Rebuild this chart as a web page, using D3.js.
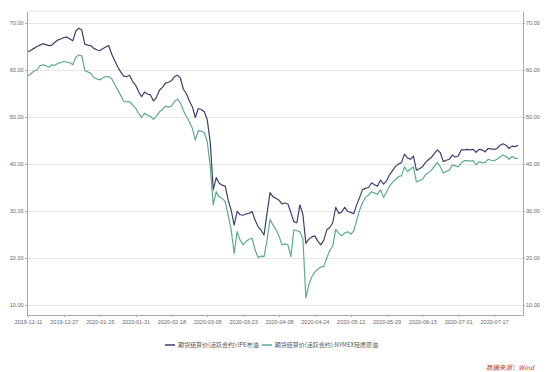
<!DOCTYPE html>
<html>
<head>
<meta charset="utf-8">
<script src="https://cdn.jsdelivr.net/npm/d3@7"></script>
<style>
  body { margin: 0; background: #fff; }
  .axis text { font-family: "Liberation Sans", Arial, sans-serif; font-size: 5.5px; fill: #666; }
  .axis path, .axis line { stroke: #aaa; shape-rendering: crispEdges; }
  .grid line { stroke: #e6e6e6; shape-rendering: crispEdges; }
</style>
</head>
<body>
<div id="chart"></div>
<script>
var svgWidth = 550;
var svgHeight = 372;

// series names (legend)
var seriesNames = ["期货结算价(活跃合约):IPE布油", "期货结算价(活跃合约):NYMEX轻质原油"];

// x axis labels, one every 12 trading days
var tickLabels = ["2019-12-11", "2019-12-27", "2020-01-15", "2020-01-31", "2020-02-18",
  "2020-03-05", "2020-03-23", "2020-04-08", "2020-04-24", "2020-05-12",
  "2020-05-29", "2020-06-15", "2020-07-01", "2020-07-17"];
var tickStep = 12;

var yTicks = [10, 20, 30, 40, 50, 60, 70];

// IPE Brent, daily settlement
var brent = [
  63.9, 64.2, 64.6, 65.0, 65.3, 65.6, 65.4, 65.2, 65.3, 65.9,
  66.4, 66.6, 66.9, 67.0, 66.6, 66.2, 68.3, 68.9, 68.5, 65.5,
  65.3, 65.2, 64.6, 64.3, 64.1, 64.5, 64.9, 65.2, 63.4, 62.0,
  60.7, 59.6, 58.7, 58.6, 58.9, 57.6, 56.8, 55.4, 54.3, 55.3,
  54.9, 54.7, 53.4, 54.2, 55.7, 56.3, 57.2, 57.4, 57.7, 58.6,
  58.9, 58.3, 55.9, 55.0, 53.4, 52.2, 49.9, 51.8, 51.6, 51.1,
  49.4, 44.6, 34.5, 37.1, 35.9, 35.5, 35.3, 32.3, 30.2, 27.0,
  29.9, 29.2, 29.1, 29.4, 29.5, 29.9, 28.1, 26.7, 25.9, 24.9,
  29.5, 33.9, 33.0, 32.7, 32.3, 31.5, 31.7, 31.5, 29.6, 27.7,
  27.5, 31.3, 29.3, 23.1, 24.0, 24.5, 24.7, 23.6, 22.8, 23.8,
  26.0, 26.5, 27.5, 30.8, 29.5, 29.8, 30.8, 29.9, 29.7, 29.4,
  31.3, 32.9, 34.6, 34.8, 35.0, 36.0, 35.6, 35.3, 36.6, 35.7,
  36.4, 37.7, 38.6, 39.5, 40.0, 40.3, 42.1, 41.3, 41.0, 41.7,
  38.7, 39.0, 39.4, 40.3, 40.9, 41.4, 42.2, 43.0, 42.4, 40.5,
  40.8, 41.0, 41.9, 41.5, 41.7, 43.0, 43.0, 43.1, 43.0, 43.1,
  42.5, 43.1, 43.0, 42.6, 43.3, 43.2, 43.1, 43.3, 44.0, 44.3,
  44.0, 43.3, 43.8, 43.7, 44.0
];

// NYMEX WTI, daily settlement
var wti = [
  58.8, 59.2, 59.8, 60.0, 60.9, 61.1, 60.9, 60.6, 61.1, 61.0,
  61.4, 61.6, 61.8, 61.7, 61.6, 61.1, 62.7, 63.2, 63.0, 59.9,
  59.6, 59.3, 58.4, 58.1, 57.9, 58.3, 58.6, 58.6, 58.2, 56.9,
  55.8, 54.6, 53.4, 53.2, 53.3, 52.6, 51.9, 50.8, 49.9, 50.8,
  50.4, 50.1, 49.5, 50.2, 51.1, 51.6, 52.3, 52.1, 52.3, 53.3,
  53.8, 53.0, 51.4, 50.1, 49.0, 47.6, 45.1, 47.1, 47.0, 46.7,
  44.7, 39.5, 31.3, 34.1, 33.0, 32.7, 32.0, 29.1, 26.0, 21.0,
  25.6, 23.8, 22.8, 23.5, 24.0, 24.2, 21.7, 20.1, 20.4, 20.3,
  23.8, 28.2, 27.0, 26.0, 24.7, 22.8, 23.0, 22.8, 20.3, 26.0,
  25.8, 25.6, 24.2, 11.5, 14.3, 16.0, 17.0, 17.6, 18.1, 18.2,
  20.0, 21.6, 22.6, 26.1, 25.3, 24.7, 25.3, 25.6, 25.1, 25.7,
  28.0, 30.2, 31.8, 32.9, 33.4, 34.1, 33.8, 33.6, 34.5, 32.9,
  34.0, 35.3, 36.1, 36.7, 37.3, 37.5, 39.4, 38.4, 38.9, 39.4,
  36.2, 36.5, 36.7, 37.7, 38.1, 38.7, 39.5, 40.3, 39.4, 38.1,
  38.4, 38.7, 39.8, 39.6, 39.4, 40.2, 40.7, 40.7, 40.6, 40.7,
  39.8, 40.5, 40.3, 40.3, 41.0, 40.8, 40.7, 41.0, 41.5, 41.9,
  41.6, 41.0, 41.6, 41.2, 41.2
];

var colors = ["#3d3f6e", "#5dab93"];

// plot area
var plotLeft = 27, plotRight = 522.5, plotTop = 11, plotBottom = 315;

var svg = d3
  .select("#chart")
  .append("svg")
  .attr("width", svgWidth)
  .attr("height", svgHeight);

var xScale = d3
  .scaleLinear()
  .domain([0, brent.length - 1])
  .range([28, 518]);

var yScale = d3
  .scaleLinear()
  .domain([10 - (plotBottom - 305) / 4.7, 70 + (23 - plotTop) / 4.7])
  .range([plotBottom, plotTop]);

// horizontal grid lines
svg.append("g")
  .attr("class", "grid")
  .selectAll("line")
  .data(yTicks)
  .enter()
  .append("line")
  .attr("x1", plotLeft)
  .attr("x2", plotRight)
  .attr("y1", function(d) { return yScale(d); })
  .attr("y2", function(d) { return yScale(d); });

// top border
svg.append("line")
  .attr("x1", plotLeft).attr("x2", plotRight)
  .attr("y1", plotTop).attr("y2", plotTop)
  .attr("stroke", "#e6e6e6");

var fmt = d3.format(".2f");

svg.append("g")
  .attr("class", "axis")
  .attr("transform", "translate(" + plotLeft + ",0)")
  .call(d3.axisLeft(yScale).tickValues(yTicks).tickFormat(fmt).tickSize(2).tickSizeOuter(0).tickPadding(1.5));

svg.append("g")
  .attr("class", "axis")
  .attr("transform", "translate(" + plotRight + ",0)")
  .call(d3.axisRight(yScale).tickValues(yTicks).tickFormat(fmt).tickSize(2).tickSizeOuter(0).tickPadding(1.5));

var xTickIdx = tickLabels.map(function(d, i) { return i * tickStep; });

var xAxisG = svg.append("g")
  .attr("class", "axis")
  .attr("transform", "translate(0," + plotBottom + ")")
  .call(d3.axisBottom(xScale).tickValues(xTickIdx)
    .tickFormat(function(d) { return tickLabels[d / tickStep]; })
    .tickSize(2).tickSizeOuter(0).tickPadding(3));

// stretch bottom axis line across the whole plot
xAxisG.select(".domain").attr("d", "M" + plotLeft + ",0H" + plotRight);

// lines
var line = d3.line()
  .x(function(d, i) { return xScale(i); })
  .y(function(d) { return yScale(d); });

[brent, wti].forEach(function(s, k) {
  svg.append("path")
    .datum(s)
    .attr("fill", "none")
    .attr("stroke", colors[k])
    .attr("stroke-width", 1.2)
    .attr("stroke-linejoin", "round")
    .attr("d", line);
});

// legend
var legend = svg.append("g").attr("transform", "translate(165,345)");
var lx = 0;
seriesNames.forEach(function(name, k) {
  legend.append("line")
    .attr("x1", lx).attr("x2", lx + 10)
    .attr("y1", 0).attr("y2", 0)
    .attr("stroke", colors[k])
    .attr("stroke-width", 1.5);
  var t = legend.append("text")
    .attr("x", lx + 13)
    .attr("y", 2)
    .attr("font-family", "'Noto Sans CJK SC', sans-serif")
    .attr("font-size", 6)
    .attr("fill", "#555")
    .text(name);
  lx += 13 + t.node().getComputedTextLength() + 3;
});

// source note
svg.append("text")
  .attr("x", 534)
  .attr("y", 370)
  .attr("text-anchor", "end")
  .attr("font-family", "'Noto Sans CJK SC', sans-serif")
  .attr("font-size", 6.5)
  .attr("font-style", "italic")
  .attr("fill", "#c0392b")
  .text("数据来源：Wind");
</script>
</body>
</html>
